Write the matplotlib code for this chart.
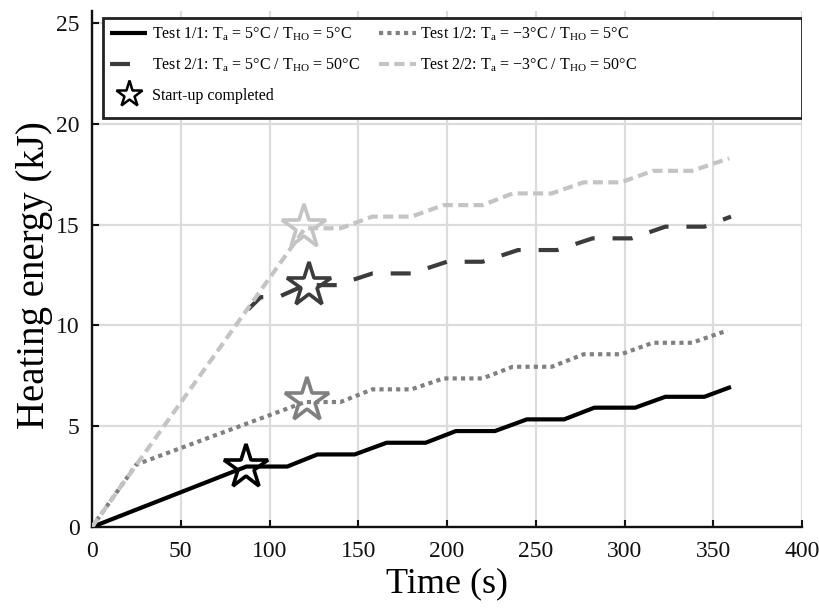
import matplotlib
matplotlib.use('Agg')
import matplotlib.pyplot as plt
from matplotlib.lines import Line2D
from matplotlib.patches import Rectangle

plt.rcParams['font.family'] = ['Liberation Serif', 'DejaVu Serif']
plt.rcParams['mathtext.fontset'] = 'custom'
plt.rcParams['mathtext.rm'] = 'Liberation Serif'

# data
t_11 = [0, 87, 110, 127, 148, 166, 188, 205, 227, 245, 266, 283, 306, 323, 345, 360]
e_11 = [0, 3.0, 3.0, 3.6, 3.6, 4.18, 4.18, 4.76, 4.76, 5.34, 5.34, 5.92, 5.92, 6.46, 6.46, 6.95]

t_12 = [0, 25, 120, 140, 158, 180, 198, 220, 237, 259, 277, 298, 316, 338, 358]
e_12 = [0, 3.1, 6.2, 6.2, 6.83, 6.83, 7.37, 7.37, 7.95, 7.95, 8.57, 8.57, 9.14, 9.14, 9.75]

t_21 = [88, 95, 106, 120, 138, 158, 180, 200, 220, 240, 262, 282, 304, 323, 345, 360]
e_21 = [10.8, 11.4, 11.45, 12.0, 12.0, 12.58, 12.58, 13.16, 13.16, 13.74, 13.74,
        14.32, 14.32, 14.9, 14.9, 15.4]

t_22 = [0, 120, 140, 158, 180, 198, 220, 237, 259, 277, 298, 316, 338, 359]
e_22 = [0, 14.82, 14.82, 15.4, 15.4, 15.97, 15.97, 16.55, 16.55, 17.1, 17.1, 17.67, 17.67, 18.29]

# start-up completed markers (11, 12, 21, 22)
star_t = [86.5, 121, 122, 119.5]
star_e = [3.0, 6.3, 12.0, 14.9]

labels = [
    'Test 1/1: T$_\\mathregular{a}$ = 5°C / T$_\\mathregular{HO}$ = 5°C',
    'Test 1/2: T$_\\mathregular{a}$ = −3°C / T$_\\mathregular{HO}$ = 5°C',
    'Test 2/1: T$_\\mathregular{a}$ = 5°C / T$_\\mathregular{HO}$ = 50°C',
    'Test 2/2: T$_\\mathregular{a}$ = −3°C / T$_\\mathregular{HO}$ = 50°C',
    'Start-up completed',
]
colors = ['#000000', '#808080', '#3c3c3c', '#c4c4c4']

fig = plt.figure(figsize=(8.19, 6.08), dpi=100)
ax = fig.add_axes([92 / 819, 1 - 527 / 608, 710 / 819, 516 / 608])

lw = 3.0
l11, = ax.plot(t_11, e_11, color=colors[0], lw=lw, solid_capstyle='butt', zorder=3)
l12, = ax.plot(t_12, e_12, color=colors[1], lw=lw, dashes=(1, 1), dash_capstyle='butt', zorder=3)
l21, = ax.plot(t_21, e_21, color=colors[2], lw=lw, dashes=(4.8, 4.3), dash_capstyle='butt', zorder=3)
l22, = ax.plot(t_22, e_22, color=colors[3], lw=lw, dashes=(2.4, 1.3), dash_capstyle='butt', zorder=3.5)

for i in range(4):
    ax.plot(star_t[i], star_e[i], marker='*', markersize=33, markerfacecolor='none',
            markeredgecolor=colors[i], markeredgewidth=2.6, linestyle='none', zorder=4)

ax.set_xlim(0, 400)
ax.set_ylim(0, 25.6)
ax.set_xticks(range(0, 401, 50))
ax.set_yticks(range(0, 26, 5))
ax.grid(True, color='#dcdcdc', lw=1.6)
ax.set_axisbelow(True)

for s in ['top', 'right']:
    ax.spines[s].set_visible(False)
for s in ['left', 'bottom']:
    ax.spines[s].set_linewidth(1.7)
    ax.spines[s].set_color('#111111')
ax.tick_params(direction='in', length=5, width=1.5, labelsize=17, colors='#111111')
ax.tick_params(axis='x', pad=10)
ax.tick_params(axis='y', pad=9)

ax.set_xlabel('Time (s)', fontsize=26, labelpad=4)
ax.set_ylabel('Heating energy (kJ)', fontsize=28)
ax.yaxis.set_label_coords(-0.055, 0.488)

# legend box
box = Rectangle((11 / 710, (527 - 118) / 516), 699 / 710, 100 / 516, transform=ax.transAxes,
                facecolor='white', edgecolor='#222222', lw=2.0, zorder=5)
ax.add_patch(box)

star_h = Line2D([], [], marker='*', markersize=20, markerfacecolor='none',
                markeredgecolor='black', markeredgewidth=1.8, linestyle='none')
leg = ax.legend([l11, l21, star_h, l12, l22],
                [labels[0], labels[2], labels[4], labels[1], labels[3]],
                ncol=2, loc='upper left', bbox_to_anchor=(11 / 710, (527 - 18) / 516),
                frameon=False, fontsize=11.5, handlelength=2.3, handletextpad=0.3,
                labelspacing=0.85, columnspacing=1.2, borderpad=0.45, borderaxespad=0)
leg.set_zorder(6)

plt.savefig('out.png', dpi=100)
